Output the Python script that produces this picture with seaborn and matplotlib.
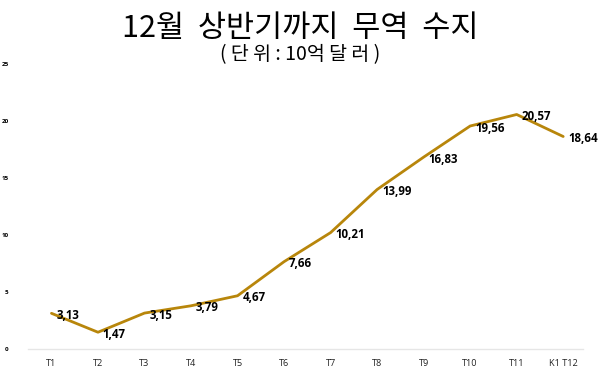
import numpy as np
import matplotlib
matplotlib.use('Agg')
import matplotlib.pyplot as plt
import pandas as pd
import seaborn as sns

months = ['T1', 'T2', 'T3', 'T4', 'T5', 'T6', 'T7', 'T8', 'T9', 'T10', 'T11', 'K1 T12']
values = [3.13, 1.47, 3.15, 3.79, 4.67, 7.66, 10.21, 13.99, 16.83, 19.56, 20.57, 18.64]
labels = ['3,13', '1,47', '3,15', '3,79', '4,67', '7,66', '10,21', '13,99', '16,83', '19,56', '20,57', '18,64']
yticks = [0, 5, 10, 15, 20, 25]

sns.set_style('white')
plt.rcParams['font.family'] = ['Noto Sans CJK KR', 'DejaVu Sans']
lab_font = ['Open Sans', 'DejaVu Sans']

df = pd.DataFrame({'month': months, 'value': values})
df['pos'] = np.arange(len(months))

fig = plt.figure(figsize=(6, 3.8), dpi=100)
ax = fig.add_axes([0.047, 0.0816, 0.925, 0.75])
sns.lineplot(data=df, x='pos', y='value', ax=ax, color='#B8860B', linewidth=2)

for i, (v, t) in enumerate(zip(values, labels)):
    ax.annotate(t, (i, v), xytext=(3.5, -1.5), textcoords='offset points',
                ha='left', va='center', fontsize=8.3, fontweight='bold',
                family=lab_font, color='black')

ax.set_xlim(-0.5, 11.43)
ax.set_ylim(0, 25)
ax.set_xticks(df['pos'])
ax.set_xticklabels(months, fontsize=6.6, family=lab_font, color='#222222')
ax.set_yticks(yticks)
ax.set_yticklabels([str(y) for y in yticks], fontsize=4.5, fontweight='bold',
                   family=lab_font, color='black')
ax.tick_params(axis='both', length=0)
ax.tick_params(axis='x', pad=7)
ax.tick_params(axis='y', pad=14)
ax.set_xlabel('')
ax.set_ylabel('')
for s in ['top', 'right', 'left']:
    ax.spines[s].set_visible(False)
ax.spines['bottom'].set_color('#e6e6e6')
ax.spines['bottom'].set_linewidth(1)

fig.text(0.5, 0.925, '12월  상반기까지  무역  수지', ha='center', va='center',
         fontsize=22, fontweight='light', color='black')
fig.text(0.5, 0.855, '( 단 위 : 10억 달 러 )', ha='center', va='center',
         fontsize=14, fontweight='light', color='black')

fig.savefig('out.png', dpi=100)
